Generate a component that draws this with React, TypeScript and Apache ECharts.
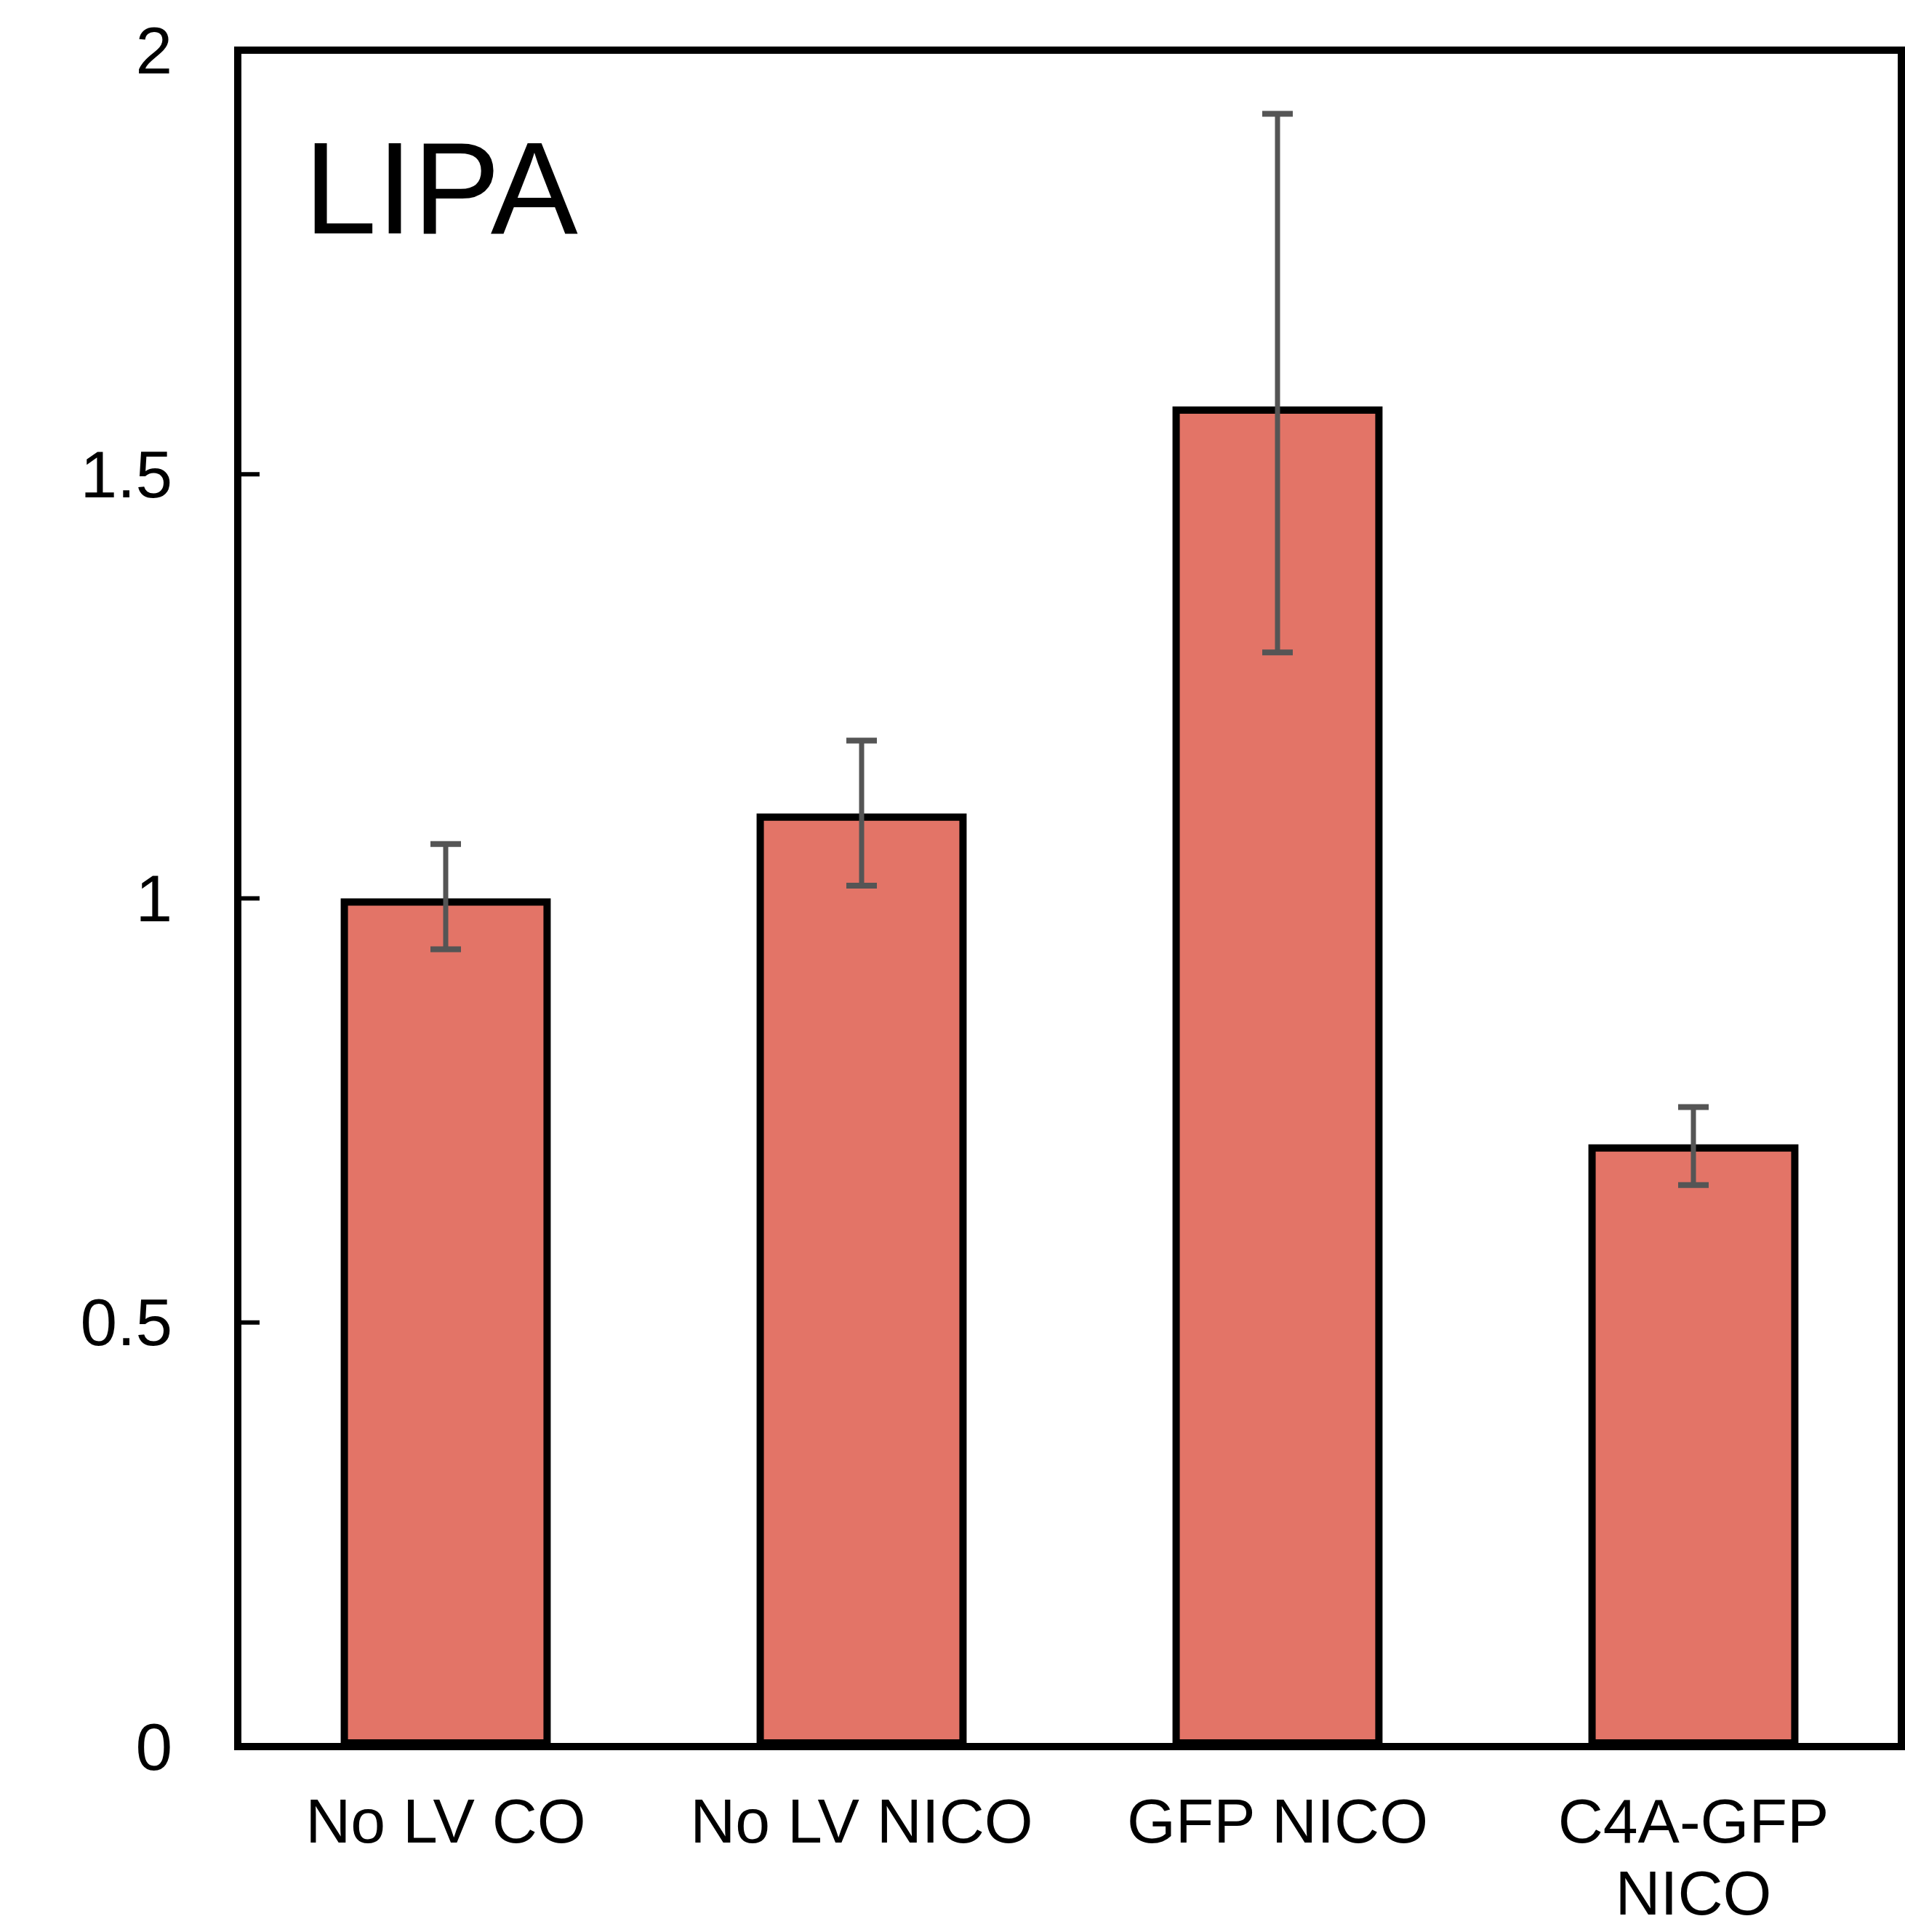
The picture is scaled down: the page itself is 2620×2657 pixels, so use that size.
import React, { useEffect, useRef } from "react";
import * as echarts from "echarts";

const categories = ["No LV CO", "No LV NICO", "GFP NICO", "C4A-GFP\nNICO"];
const means = [1.0, 1.1, 1.58, 0.71];
const errLow = [0.94, 1.015, 1.29, 0.662];
const errHigh = [1.064, 1.186, 1.925, 0.754];
const yTickValues = [0, 0.5, 1, 1.5, 2];
const yTicks = { min: 0, max: 2, interval: 0.5 };
const title = "LIPA";

const FONT = "'Liberation Sans', Arial, Helvetica, sans-serif";

export default function App() {
  const ref = useRef<HTMLDivElement>(null);
  useEffect(() => {
    document.body.style.margin = "0";
    const chart = echarts.init(ref.current!, null, { renderer: "svg" });
    const errData = categories.map((_, i) => [i, errLow[i], errHigh[i]]);
    chart.setOption({
      animation: false,
      backgroundColor: "#ffffff",
      grid: {
        left: 327,
        right: 5,
        top: 69,
        bottom: 255,
        show: true,
        borderColor: "#000",
        borderWidth: 10,
        backgroundColor: "transparent",
      },
      xAxis: {
        type: "category",
        data: categories,
        axisLine: { show: true, lineStyle: { color: "#000", width: 10 } },
        axisTick: { show: false },
        axisLabel: {
          color: "#000",
          fontFamily: FONT,
          fontSize: 86,
          lineHeight: 99,
          margin: 52,
          interval: 0,
        },
        splitLine: { show: false },
      },
      yAxis: {
        type: "value",
        min: yTicks.min,
        max: yTicks.max,
        interval: yTicks.interval,
        axisLine: { show: true, lineStyle: { color: "#000", width: 10 } },
        axisTick: { show: false },
        axisLabel: {
          color: "#000",
          fontFamily: FONT,
          fontSize: 91,
          margin: 90,
        },
        splitLine: { show: false },
      },
      graphic: [
        {
          type: "text",
          left: 418,
          top: 168,
          style: {
            text: title,
            fontFamily: FONT,
            fontSize: 180,
            fill: "#000",
          },
        },
      ],
      series: [
        {
          type: "bar",
          data: means,
          barWidth: "50.5%",
          itemStyle: { color: "#E37467", borderColor: "#000", borderWidth: 10 },
          z: 2,
        },
        {
          type: "custom",
          data: errData,
          z: 5,
          renderItem: (params: any, api: any) => {
            const x = api.value(0);
            const lo = api.coord([x, api.value(1)]);
            const hi = api.coord([x, api.value(2)]);
            const half = 21;
            const style = { stroke: "#555555", lineWidth: 7 };
            return {
              type: "group",
              children: [
                { type: "line", shape: { x1: hi[0], y1: hi[1], x2: lo[0], y2: lo[1] }, style },
                { type: "line", shape: { x1: hi[0] - half, y1: hi[1], x2: hi[0] + half, y2: hi[1] }, style: { ...style, lineWidth: 8 } },
                { type: "line", shape: { x1: lo[0] - half, y1: lo[1], x2: lo[0] + half, y2: lo[1] }, style: { ...style, lineWidth: 8 } },
              ],
            };
          },
        },
        {
          type: "custom",
          data: yTickValues.map((v) => [0, v]),
          z: 6,
          silent: true,
          renderItem: (params: any, api: any) => {
            const p = api.coord([0, api.value(1)]);
            const left = params.coordSys.x;
            return {
              type: "line",
              shape: { x1: left, y1: p[1], x2: left + 30, y2: p[1] },
              style: { stroke: "#000", lineWidth: 6 },
            };
          },
        },
      ],
    });
    return () => chart.dispose();
  }, []);
  return <div ref={ref} style={{ width: 2620, height: 2657 }} />;
}
